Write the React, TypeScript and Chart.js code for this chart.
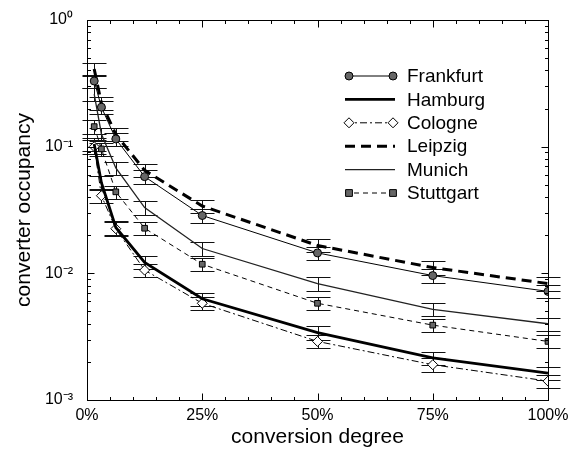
import React, { useEffect, useRef } from "react";
import { Chart, registerables } from "chart.js";

Chart.register(...registerables);

// ---- data ----
const conversionDegree = [0.015625, 0.03125, 0.0625, 0.125, 0.25, 0.5, 0.75, 1];
const frankfurt = [0.33, 0.205, 0.115, 0.058, 0.0286, 0.0145, 0.0096, 0.0072];
const hamburg = [0.105, 0.052, 0.023, 0.0122, 0.0063, 0.0034, 0.00215, 0.00163];
const cologne = [0.1, 0.041, 0.0225, 0.0106, 0.0058, 0.0029, 0.0019, 0.00141];
const leipzig = [0.41, 0.22, 0.125, 0.065, 0.034, 0.0166, 0.0111, 0.0083];
const munich = [0.26, 0.126, 0.068, 0.033, 0.0157, 0.0083, 0.0052, 0.004];
const stuttgart = [0.144, 0.096, 0.044, 0.0227, 0.0118, 0.0058, 0.0039, 0.0029];
const errorFraction = 0.12;
const xTickValues = [0, 0.25, 0.5, 0.75, 1];
const yDecades = [0.001, 0.01, 0.1, 1];
const yTickLabels = ["10\u207B\u00B3", "10\u207B\u00B2", "10\u207B\u00B9", "10\u2070"];

const FONT = "'Liberation Sans', Arial, Helvetica, sans-serif";

const pts = (vals: number[]) => vals.map((v, i) => ({ x: conversionDegree[i], y: v }));

function drawMarker(ctx: CanvasRenderingContext2D, style: string, x: number, y: number, r: number, fill: string) {
  ctx.save();
  ctx.fillStyle = fill;
  ctx.strokeStyle = "#000";
  ctx.lineWidth = 1;
  ctx.setLineDash([]);
  ctx.beginPath();
  if (style === "circle") {
    ctx.arc(x, y, r, 0, Math.PI * 2);
  } else if (style === "rect") {
    ctx.rect(x - r * 0.85, y - r * 0.85, r * 1.7, r * 1.7);
  } else if (style === "rectRot") {
    ctx.moveTo(x, y - r);
    ctx.lineTo(x + r, y);
    ctx.lineTo(x, y + r);
    ctx.lineTo(x - r, y);
    ctx.closePath();
  }
  ctx.fill();
  ctx.stroke();
  ctx.restore();
}

const framePlugin = {
  id: "frame",
  beforeDatasetsDraw(chart: any) {
    const ctx = chart.ctx as CanvasRenderingContext2D;
    const xs = chart.scales.x;
    const ys = chart.scales.y;
    ctx.save();
    ctx.strokeStyle = "#111";
    ctx.lineWidth = 1;
    ctx.setLineDash([]);
    chart.data.datasets.forEach((ds: any) => {
      ds.data.forEach((p: any) => {
        const x = Math.round(xs.getPixelForValue(p.x)) + 0.5;
        const yTop = Math.round(ys.getPixelForValue(p.y * (1 + errorFraction))) + 0.5;
        const yBot = Math.round(ys.getPixelForValue(p.y * (1 - errorFraction))) + 0.5;
        ctx.beginPath();
        ctx.moveTo(x, yTop);
        ctx.lineTo(x, yBot);
        ctx.moveTo(x - 12, yTop);
        ctx.lineTo(x + 12, yTop);
        ctx.moveTo(x - 12, yBot);
        ctx.lineTo(x + 12, yBot);
        ctx.stroke();
      });
    });
    ctx.restore();
  },
  afterDraw(chart: any) {
    const ctx = chart.ctx as CanvasRenderingContext2D;
    const { left, right, top, bottom } = chart.chartArea;
    const xs = chart.scales.x;
    const ys = chart.scales.y;
    ctx.save();
    ctx.strokeStyle = "#000";
    ctx.lineWidth = 1;
    ctx.setLineDash([]);
    const L = Math.round(left) + 0.5;
    const R = Math.round(right) + 0.5;
    const T = Math.round(top) + 0.5;
    const B = Math.round(bottom) + 0.5;
    ctx.strokeRect(L, T, R - L, B - T);
    ctx.beginPath();
    // x ticks (inward, top and bottom)
    for (let k = 0; k <= 20; k++) {
      const v = k * 0.05;
      const major = xTickValues.some((t) => Math.abs(t - v) < 1e-9);
      const len = major ? 7 : 3.5;
      const x = Math.round(xs.getPixelForValue(v)) + 0.5;
      ctx.moveTo(x, B);
      ctx.lineTo(x, B - len);
      ctx.moveTo(x, T);
      ctx.lineTo(x, T + len);
    }
    // y ticks (inward, left and right)
    yDecades.forEach((d, i) => {
      const mults = i < yDecades.length - 1 ? [1, 2, 3, 4, 5, 6, 7, 8, 9] : [1];
      mults.forEach((m) => {
        const len = m === 1 ? 7 : 3.5;
        const y = Math.round(ys.getPixelForValue(d * m)) + 0.5;
        ctx.moveTo(L, y);
        ctx.lineTo(L + len, y);
        ctx.moveTo(R, y);
        ctx.lineTo(R - len, y);
      });
    });
    ctx.stroke();

    // legend inside the plot area
    const x0 = right - 203;
    const x1 = right - 153;
    const tx = right - 141;
    ctx.font = `19px ${FONT}`;
    ctx.textBaseline = "middle";
    ctx.textAlign = "left";
    chart.data.datasets.forEach((ds: any, i: number) => {
      const y = top + 56 + i * 23.4;
      ctx.save();
      ctx.strokeStyle = ds.borderColor;
      ctx.lineWidth = ds.borderWidth;
      ctx.setLineDash(ds.borderDash || []);
      ctx.beginPath();
      ctx.moveTo(x0, y);
      ctx.lineTo(x1, y);
      ctx.stroke();
      ctx.restore();
      if (ds.pointRadius > 0) {
        drawMarker(ctx, ds.pointStyle, x0 + 4, y, ds.pointRadius, ds.pointBackgroundColor);
        drawMarker(ctx, ds.pointStyle, x1 - 2, y, ds.pointRadius, ds.pointBackgroundColor);
      }
      ctx.fillStyle = "#000";
      ctx.fillText(ds.label, tx, y + 1);
    });
    ctx.restore();
  },
};

export default function App() {
  const canvasRef = useRef<HTMLCanvasElement | null>(null);

  useEffect(() => {
    if (!canvasRef.current) return;
    const chart = new Chart(canvasRef.current, {
      type: "line",
      data: {
        datasets: [
          {
            label: "Frankfurt",
            data: pts(frankfurt),
            borderColor: "#000",
            borderWidth: 1,
            borderDash: [],
            pointStyle: "circle",
            pointRadius: 4,
            pointBackgroundColor: "#666",
            pointBorderColor: "#000",
            pointBorderWidth: 1,
          },
          {
            label: "Hamburg",
            data: pts(hamburg),
            borderColor: "#000",
            borderWidth: 2.8,
            borderDash: [],
            pointRadius: 0,
          },
          {
            label: "Cologne",
            data: pts(cologne),
            borderColor: "#000",
            borderWidth: 1,
            borderDash: [7, 3, 2, 3],
            pointStyle: "rectRot",
            pointRadius: 5,
            pointBackgroundColor: "#fff",
            pointBorderColor: "#000",
            pointBorderWidth: 1,
          },
          {
            label: "Leipzig",
            data: pts(leipzig),
            borderColor: "#000",
            borderWidth: 3,
            borderDash: [10, 6],
            pointRadius: 0,
          },
          {
            label: "Munich",
            data: pts(munich),
            borderColor: "#222",
            borderWidth: 1.3,
            borderDash: [],
            pointRadius: 0,
          },
          {
            label: "Stuttgart",
            data: pts(stuttgart),
            borderColor: "#000",
            borderWidth: 1,
            borderDash: [5, 4],
            pointStyle: "rect",
            pointRadius: 4,
            pointBackgroundColor: "#666",
            pointBorderColor: "#000",
            pointBorderWidth: 1,
          },
        ] as any,
      },
      options: {
        animation: false,
        responsive: true,
        maintainAspectRatio: false,
        layout: { padding: { top: 20, right: 32, left: 0, bottom: 0 } },
        elements: { line: { tension: 0 } },
        plugins: { legend: { display: false }, tooltip: { enabled: false } },
        scales: {
          x: {
            type: "linear",
            min: 0,
            max: 1,
            grid: { display: false },
            border: { display: false },
            afterBuildTicks: (s: any) => {
              s.ticks = xTickValues.map((v) => ({ value: v }));
            },
            ticks: {
              autoSkip: false,
              maxRotation: 0,
              padding: -2,
              color: "#000",
              font: { family: FONT, size: 16 },
              callback: (v: any) => `${Math.round(Number(v) * 100)}%`,
            },
            title: {
              display: true,
              text: "conversion degree",
              color: "#000",
              font: { family: FONT, size: 21 },
              padding: { top: 0, bottom: 0 },
            },
            afterFit: (s: any) => {
              s.height = 50;
            },
          },
          y: {
            type: "logarithmic",
            min: 0.001,
            max: 1,
            grid: { display: false },
            border: { display: false },
            afterBuildTicks: (s: any) => {
              s.ticks = yDecades.map((v) => ({ value: v }));
            },
            ticks: {
              autoSkip: false,
              padding: 6,
              color: "#000",
              font: { family: FONT, size: 16 },
              callback: (v: any) => {
                const idx = yDecades.findIndex((d) => Math.abs(d - Number(v)) / d < 1e-6);
                return idx >= 0 ? yTickLabels[idx] : "";
              },
            },
            title: {
              display: true,
              text: "converter occupancy",
              color: "#000",
              font: { family: FONT, size: 21 },
              padding: { top: 12, bottom: 0 },
            },
            afterFit: (s: any) => {
              s.width = 87;
            },
          },
        },
      } as any,
      plugins: [framePlugin],
    });
    return () => chart.destroy();
  }, []);

  return (
    <div style={{ position: "fixed", left: 0, top: 0, width: 580, height: 450, background: "#fff" }}>
      <canvas ref={canvasRef} />
    </div>
  );
}
